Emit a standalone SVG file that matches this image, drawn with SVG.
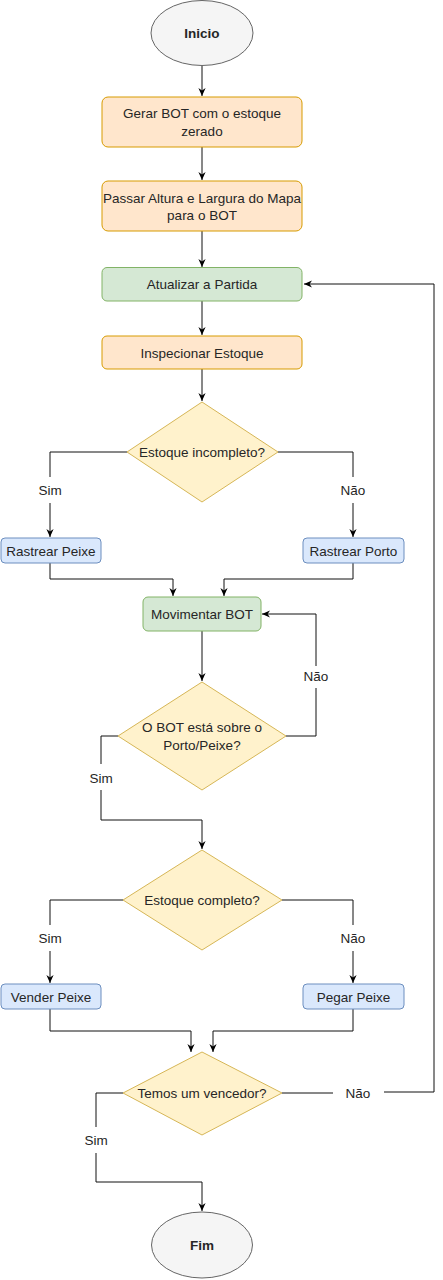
<svg xmlns="http://www.w3.org/2000/svg" width="443" height="1280" viewBox="0 0 443 1280">
<defs>
<marker id="arr" viewBox="0 0 10 10" refX="10" refY="5" markerWidth="8" markerHeight="8" markerUnits="userSpaceOnUse" orient="auto">
<path d="M0,0.5 L10,5 L0,9.5 L3,5 z" fill="#000"/>
</marker>
<style>
text{font-family:"Liberation Sans",Arial,sans-serif;font-size:13.5px;fill:#262626;text-anchor:middle}
.b{font-weight:bold}
.term{fill:#f5f5f5;stroke:#666666;stroke-width:1}
.org{fill:#ffe6cc;stroke:#d79b00;stroke-width:1}
.grn{fill:#d5e8d4;stroke:#82b366;stroke-width:1}
.blu{fill:#dae8fc;stroke:#6c8ebf;stroke-width:1}
.dec{fill:#fff2cc;stroke:#d6b656;stroke-width:1}
.e{fill:none;stroke:#111;stroke-width:1}
.a{marker-end:url(#arr)}
</style>
</defs>
<rect width="443" height="1280" fill="#ffffff"/>
<g id="connectors">
<path class="e a" d="M202,66 V96"/>
<path class="e a" d="M202,147 V180"/>
<path class="e a" d="M202,231 V267"/>
<path class="e a" d="M202,301 V335"/>
<path class="e a" d="M202,369 V401"/>
<path class="e" d="M127,452 H50 V477"/>
<path class="e a" d="M50,503 V537"/>
<path class="e" d="M278,452 H353 V477"/>
<path class="e a" d="M353,503 V537"/>
<path class="e a" d="M50,563 V579 H173 V596"/>
<path class="e a" d="M353,563 V579 H224 V596"/>
<path class="e a" d="M202,631 V681"/>
<path class="e" d="M286,736 H316 V688"/>
<path class="e a" d="M316,666 V614 H262"/>
<path class="e" d="M118,736 H101 V764"/>
<path class="e a" d="M101,790 V820 H202 V849"/>
<path class="e" d="M123,900 H50 V925"/>
<path class="e a" d="M50,951 V983"/>
<path class="e" d="M282,900 H353 V925"/>
<path class="e a" d="M353,951 V983"/>
<path class="e a" d="M50,1009 V1031 H191 V1052"/>
<path class="e a" d="M353,1009 V1031 H213 V1052"/>
<path class="e" d="M282,1093 H333"/>
<path class="e a" d="M384,1092 H434 V284 H304"/>
<path class="e" d="M123,1093 H96 V1127"/>
<path class="e a" d="M96,1153 V1182 H202 V1211"/>
<text x="50" y="495">Sim</text>
<text x="353" y="495">Não</text>
<text x="316" y="681">Não</text>
<text x="101" y="783">Sim</text>
<text x="50" y="943">Sim</text>
<text x="353" y="943">Não</text>
<text x="358" y="1098">Não</text>
<text x="96" y="1145">Sim</text>
</g>
<g id="inicio">
<ellipse class="term" cx="202" cy="33" rx="51" ry="32.5"/>
<text class="b" x="202" y="38">Inicio</text>
</g>
<g id="gerar">
<rect class="org" x="102" y="97" width="200" height="50" rx="6"/>
<text x="202" y="118">Gerar BOT com o estoque</text>
<text x="202" y="135.5">zerado</text>
</g>
<g id="passar">
<rect class="org" x="102" y="181" width="200" height="50" rx="6"/>
<text x="202" y="202.5">Passar Altura e Largura do Mapa</text>
<text x="202" y="219.5">para o BOT</text>
</g>
<g id="atualizar">
<rect class="grn" x="102" y="267.5" width="200" height="33.5" rx="5"/>
<text x="202" y="289">Atualizar a Partida</text>
</g>
<g id="inspecionar">
<rect class="org" x="102" y="336" width="200" height="33" rx="5"/>
<text x="202" y="357.5">Inspecionar Estoque</text>
</g>
<g id="estoque-incompleto">
<polygon class="dec" points="202,402 278,452 202,502 127,452"/>
<text x="202" y="457">Estoque incompleto?</text>
</g>
<g id="rastrear-peixe">
<rect class="blu" x="1" y="538" width="100" height="25" rx="4"/>
<text x="51" y="555.5">Rastrear Peixe</text>
</g>
<g id="rastrear-porto">
<rect class="blu" x="303" y="538" width="101" height="25" rx="4"/>
<text x="353.5" y="555.5">Rastrear Porto</text>
</g>
<g id="movimentar">
<rect class="grn" x="143" y="597" width="118" height="34" rx="5"/>
<text x="202" y="618.5">Movimentar BOT</text>
</g>
<g id="bot-sobre">
<polygon class="dec" points="202,682 286,736 202,790 118,736"/>
<text x="202" y="732">O BOT está sobre o</text>
<text x="202" y="750">Porto/Peixe?</text>
</g>
<g id="estoque-completo">
<polygon class="dec" points="202,850 282,900 202,950 123,900"/>
<text x="202" y="905">Estoque completo?</text>
</g>
<g id="vender">
<rect class="blu" x="1" y="984" width="100" height="25" rx="4"/>
<text x="51" y="1001.5">Vender Peixe</text>
</g>
<g id="pegar">
<rect class="blu" x="303" y="984" width="101" height="25" rx="4"/>
<text x="353.5" y="1001.5">Pegar Peixe</text>
</g>
<g id="vencedor">
<polygon class="dec" points="202,1052 282,1093 202,1135 123,1093"/>
<text x="202" y="1098">Temos um vencedor?</text>
</g>
<g id="fim">
<ellipse class="term" cx="202" cy="1245" rx="50.5" ry="33"/>
<text class="b" x="202" y="1250">Fim</text>
</g>
</svg>
